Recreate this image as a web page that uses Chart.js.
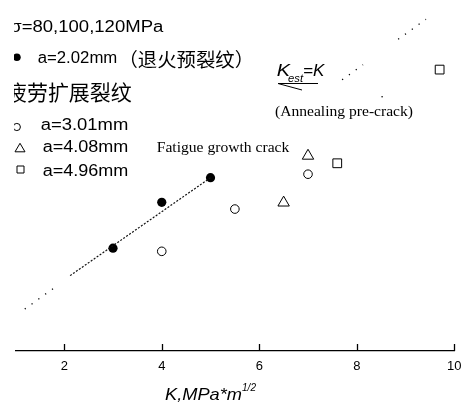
<!DOCTYPE html>
<html>
<head>
<meta charset="UTF-8">
<title>K_est vs K</title>
<style>
    body { margin: 0; background: #fff; }
    #wrap { position: relative; width: 462px; height: 405px; }
</style>
</head>
<body>
<div id="wrap"><canvas id="kChart"></canvas></div>

<script src="https://cdn.jsdelivr.net/npm/chart.js"></script>
<script>
    // values (K in MPa*m^1/2)
    const xTicks = [2, 4, 6, 8, 10];

    const annealK = [3.0, 4.0, 5.0];          // a=2.02mm, annealing pre-crack
    const annealKest = [2.92, 4.22, 4.92];

    const crack301K = [4.0, 5.5, 7.0];        // a=3.01mm
    const crack301Kest = [2.83, 4.03, 5.02];

    const crack408K = [6.5, 7.0];             // a=4.08mm
    const crack408Kest = [4.21, 5.54];

    const crack496K = [7.6, 9.7];             // a=4.96mm
    const crack496Kest = [5.33, 7.99];

    const fitK = [2.12, 5.0];                 // trend through annealed points
    const fitKest = [2.14, 4.92];

    // visible pieces of the K_est = K line
    const equalFrom = [1.19, 7.70, 8.85];
    const equalTo = [1.78, 8.13, 9.42];

    const strayK = [8.52];
    const strayKest = [7.22];

    const SANS = 'Arial, "Liberation Sans", sans-serif';
    const SERIF = '"Times New Roman", "Liberation Serif", serif';
    const CJK = '"Noto Sans CJK SC", sans-serif';

    const pts = (xs, ys) => xs.map((x, i) => ({ x: x, y: ys[i] }));

    // text squeezed/stretched to a given width
    function txt(ctx, s, x, y, font, w) {
        ctx.save();
        ctx.font = font;
        const m = ctx.measureText(s).width;
        const k = w ? w / m : 1;
        ctx.translate(x, y);
        ctx.scale(k, 1);
        ctx.fillText(s, 0, 0);
        ctx.restore();
        return k;
    }

    const decor = {
        id: 'decor',
        afterDraw(chart) {
            const ctx = chart.ctx;
            const xs = chart.scales.x;
            const bottom = chart.chartArea.bottom;

            // inward tick marks
            ctx.save();
            ctx.strokeStyle = '#000';
            ctx.lineWidth = 1.3;
            xTicks.forEach(v => {
                const px = Math.round(xs.getPixelForValue(v)) + 0.5;
                ctx.beginPath();
                ctx.moveTo(px, bottom);
                ctx.lineTo(px, bottom - 7);
                ctx.stroke();
            });
            ctx.restore();

            ctx.save();
            ctx.fillStyle = '#000';
            ctx.textBaseline = 'alphabetic';

            // axis title
            txt(ctx, 'K,MPa*m', 165, 400, 'italic 17px ' + SANS, 77);
            txt(ctx, '1/2', 242, 391, 'italic 11px ' + SANS, 14);

            // legend block (left edge is cut off)
            ctx.save();
            ctx.beginPath();
            ctx.rect(14, 0, 448, 405);
            ctx.clip();

            const k1 = txt(ctx, '=80,100,120MPa', 21.7, 32.3, '16px ' + SANS, 141.6);
            ctx.save();
            ctx.font = '16px ' + SANS;
            const sw = ctx.measureText('σ').width * k1;
            ctx.restore();
            txt(ctx, 'σ', 21.7 - sw, 32.3, '16px ' + SANS, sw);

            txt(ctx, 'a=2.02mm', 37.7, 63.3, '16px ' + SANS, 79.6);
            ctx.save();
            ctx.textBaseline = 'middle';
            txt(ctx, '（退火预裂纹）', 118.5, 60, '19px ' + CJK, 135.5);
            txt(ctx, '疲劳扩展裂纹', 6, 92.2, '21px ' + CJK, 125.7);
            ctx.restore();

            txt(ctx, 'a=3.01mm', 40.7, 130, '16px ' + SANS, 87.6);
            txt(ctx, 'a=4.08mm', 42.7, 151.7, '16px ' + SANS, 85.6);
            txt(ctx, 'a=4.96mm', 42.7, 175.7, '16px ' + SANS, 85.6);

            // legend markers
            ctx.lineWidth = 1;
            ctx.strokeStyle = '#000';
            ctx.fillStyle = '#000';
            ctx.beginPath();
            ctx.arc(16.9, 57.3, 3.8, 0, Math.PI * 2);
            ctx.fill();

            ctx.fillStyle = '#fff';
            ctx.beginPath();
            ctx.arc(16.8, 127, 3.6, 0, Math.PI * 2);
            ctx.fill();
            ctx.stroke();

            ctx.beginPath();
            ctx.moveTo(20, 143.3);
            ctx.lineTo(25, 151.8);
            ctx.lineTo(15, 151.8);
            ctx.closePath();
            ctx.fill();
            ctx.stroke();

            ctx.beginPath();
            ctx.rect(17, 166, 7, 7);
            ctx.fill();
            ctx.stroke();
            ctx.restore();

            // annotations
            ctx.fillStyle = '#000';
            txt(ctx, 'Fatigue growth crack', 156.7, 152, '14px ' + SERIF, 132.6);
            txt(ctx, '(Annealing pre-crack)', 275, 115.5, '14px ' + SERIF, 138);

            txt(ctx, 'K', 276.7, 75.7, 'italic 17px ' + SANS, 13.3);
            txt(ctx, 'est', 288, 81.5, 'italic 11px ' + SANS, 15);
            txt(ctx, '=K', 303, 75.7, 'italic 17px ' + SANS, 21.3);

            ctx.strokeStyle = '#000';
            ctx.lineWidth = 1;
            ctx.beginPath();
            ctx.moveTo(278, 83.5);
            ctx.lineTo(318, 83.5);
            ctx.moveTo(278, 83.5);
            ctx.lineTo(302, 90);
            ctx.stroke();

            ctx.restore();
        }
    };

    const equalSets = equalFrom.map((a, i) => ({
        type: 'line',
        data: [{ x: a, y: a }, { x: equalTo[i], y: equalTo[i] }],
        borderColor: '#000',
        borderWidth: 1.3,
        borderDash: [1.2, 7.2],
        pointRadius: 0,
        fill: false
    }));

    const ctx = document.getElementById('kChart').getContext('2d');
    new Chart(ctx, {
        type: 'scatter',
        data: {
            datasets: [
                ...equalSets,
                {
                    type: 'line',
                    data: pts(fitK, fitKest),
                    borderColor: '#111',
                    borderWidth: 1.2,
                    borderDash: [2, 1.6],
                    pointRadius: 0,
                    fill: false
                },
                {
                    data: pts(annealK, annealKest),
                    pointStyle: 'circle',
                    pointRadius: 4.6,
                    backgroundColor: '#000',
                    borderColor: '#000',
                    borderWidth: 0
                },
                {
                    data: pts(crack301K, crack301Kest),
                    pointStyle: 'circle',
                    pointRadius: 4.3,
                    backgroundColor: '#fff',
                    borderColor: '#000',
                    borderWidth: 1
                },
                {
                    data: pts(crack408K, crack408Kest),
                    pointStyle: 'triangle',
                    pointRadius: 6.6,
                    backgroundColor: '#fff',
                    borderColor: '#000',
                    borderWidth: 1
                },
                {
                    data: pts(crack496K, crack496Kest),
                    pointStyle: 'rect',
                    pointRadius: 6.2,
                    backgroundColor: '#fff',
                    borderColor: '#000',
                    borderWidth: 1
                },
                {
                    data: pts(strayK, strayKest),
                    pointStyle: 'circle',
                    pointRadius: 0.8,
                    backgroundColor: '#000',
                    borderWidth: 0
                }
            ]
        },
        options: {
            responsive: true,
            maintainAspectRatio: false,
            animation: false,
            clip: false,
            layout: { padding: { left: 15.5, right: 7.75, top: 0, bottom: 0 } },
            plugins: {
                legend: { display: false },
                tooltip: { enabled: false }
            },
            scales: {
                x: {
                    type: 'linear',
                    min: 1,
                    max: 10,
                    afterBuildTicks: s => { s.ticks = xTicks.map(v => ({ value: v })); },
                    afterFit: s => { s.height = 54; s.paddingLeft = 0; s.paddingRight = 0; },
                    grid: { display: false },
                    border: { display: true, color: '#000', width: 1.3 },
                    ticks: {
                        color: '#000',
                        padding: 0,
                        font: { family: SANS, size: 13 }
                    }
                },
                y: {
                    display: false,
                    min: 0,
                    max: 9.75
                }
            }
        },
        plugins: [decor]
    });
</script>
</body>
</html>
